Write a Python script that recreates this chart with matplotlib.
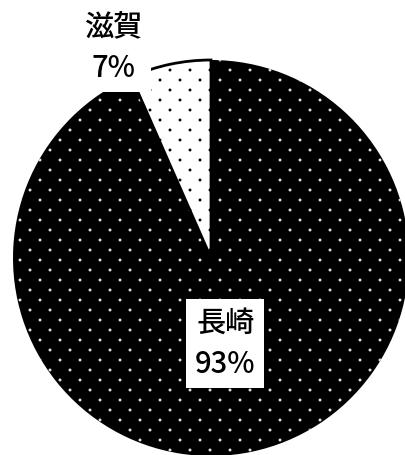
import numpy as np
import matplotlib
matplotlib.use("Agg")
import matplotlib.pyplot as plt
import matplotlib.hatch as mhatch
from matplotlib.path import Path

plt.rcParams['font.family'] = ['Noto Sans CJK JP', 'DejaVu Sans']
plt.rcParams['hatch.linewidth'] = 0.8


class StaggeredDots(mhatch.HatchPatternBase):
    """Dot texture: rows of dots, every other row shifted by half a step."""
    ncols = 5
    nrows = 10
    radius = 0.009

    def __init__(self, hatch, density):
        self.active = hatch.count('.') > 0
        circle = Path.unit_circle()
        self.shape_vertices = circle.vertices * self.radius
        self.shape_codes = circle.codes
        if self.active:
            n = 0
            for row in range(self.nrows + 1):
                n += (self.ncols + 1) if row % 2 == 0 else self.ncols
            self.num_shapes = n
            self.num_vertices = n * len(self.shape_vertices)
        else:
            self.num_shapes = 0
            self.num_vertices = 0

    def set_vertices_and_codes(self, vertices, codes):
        vparts, cparts = [], []
        step = 1.0 / self.ncols
        for row in range(self.nrows + 1):
            y = row / self.nrows
            if row % 2 == 0:
                xs = np.linspace(0, 1, self.ncols + 1)
            else:
                xs = np.linspace(step / 2, 1 - step / 2, self.ncols)
            for x in xs:
                vparts.append(self.shape_vertices + [x, y])
                cparts.append(self.shape_codes)
        np.concatenate(vparts, out=vertices)
        np.concatenate(cparts, out=codes)


mhatch._hatch_types = [StaggeredDots if t is mhatch.SmallFilledCircles else t
                       for t in mhatch._hatch_types]

labels = ['滋賀', '長崎']
values = [6.6, 93.4]
face_colors = ['white', 'black']
hatch_colors = ['#444444', '#e8e8e8']

W, H = 406, 455
fig = plt.figure(figsize=(W / 100, H / 100), dpi=100)
cx, cy, r = 211, 258, 198
ax = fig.add_axes([(cx - r) / W, (H - cy - r) / H, 2 * r / W, 2 * r / H])

wedges, _ = ax.pie(values, startangle=90, counterclock=True, radius=1,
                   colors=face_colors, frame=False)
ax.set_xlim(-1, 1)
ax.set_ylim(-1, 1)
ax.set_aspect('auto')
ax.set_axis_off()

for w, fc, hc in zip(wedges, face_colors, hatch_colors):
    w.set_hatch('.')
    w.set_edgecolor(hc)
    try:
        w.set_hatchcolor(hc)
    except AttributeError:
        pass
    if fc == 'white':
        w.set_linewidth(2)
        w.set_zorder(3)
        w.set_edgecolor('black')
    else:
        w.set_linewidth(0)
    w.set_clip_on(False)

label_pos = [(-0.495, 1.061), (0.073, -0.434)]
for lab, v, (x, y) in zip(labels, values, label_pos):
    ax.text(x, y, f"{lab}\n{v:.0f}%", ha='center', va='center', fontsize=21,
            fontweight='medium', linespacing=1.4, zorder=5,
            bbox=dict(boxstyle='square,pad=0.3', fc='white', ec='none'))

fig.savefig('out.png', dpi=100)
